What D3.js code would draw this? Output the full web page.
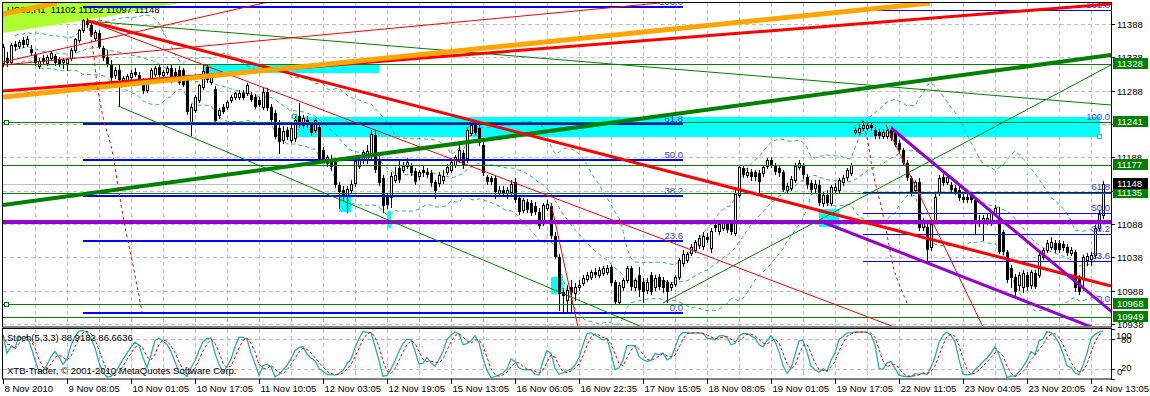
<!DOCTYPE html>
<html><head><meta charset="utf-8">
<script src="https://cdn.jsdelivr.net/npm/d3@7/dist/d3.min.js"></script>
<style>
html,body{margin:0;padding:0;background:#fff;}
svg{display:block;}
text{font-family:"Liberation Sans",Arial,sans-serif;font-size:9.5px;white-space:pre;}
</style></head><body>
<svg id="chart" width="1150" height="396"></svg>
<script>
// ---------- DATA (US30, H1) ----------
const opens = [
11330,11337,11331,11358,11355,11364,11358,11351,11342,11325,
11337,11330,11337,11340,11334,11331,11330,11337,11349,11364,
11379,11393,11387,11367,11375,11352,11339,11327,11312,11319,
11304,11304,11309,11316,11312,11304,11289,11307,11313,11324,
11312,11316,11322,11316,11319,11319,11304,11240,11259,11274,
11294,11324,11301,11290,11252,11264,11264,11274,11279,11279,
11285,11285,11282,11279,11274,11264,11286,11264,11254,11232,
11214,11229,11214,11217,11250,11237,11244,11237,11229,11234,
11199,11179,11184,11181,11146,11139,11131,11139,11150,11175,
11184,11184,11190,11222,11184,11157,11129,11129,11154,11172,
11169,11175,11175,11168,11160,11169,11166,11164,11151,11149,
11154,11166,11169,11176,11184,11195,11187,11225,11237,11232,
11207,11159,11157,11157,11134,11139,11134,11136,11151,11127,
11109,11121,11120,11115,11106,11090,11112,11115,11070,11039,
10986,10974,10994,10985,10994,11000,11006,11009,11016,11012,
11014,11016,11024,11001,10971,10994,11004,11022,10994,11012,
11001,10989,11012,10994,11009,11004,11001,10994,10998,11009,
11029,11034,11044,11049,11056,11055,11069,11052,11087,11078,
11082,11090,11090,11075,11131,11172,11161,11166,11166,11164,
11164,11175,11184,11176,11172,11166,11139,11142,11154,11174,
11175,11158,11149,11142,11146,11119,11131,11119,11139,11139,
11151,11159,11164,11226,11226,11232,11232,11237,11229,11226,
11220,11220,11229,11224,11209,11199,11179,11157,11139,11151,
11084,11084,11054,11094,11134,11159,11151,11146,11142,11139,
11128,11128,11131,11124,11090,11090,11091,11090,11105,11097,
11076,11046,11022,11009,10997,10994,11012,10997,11015,11012,
11039,11049,11054,11060,11060,11058,11054,11044,11046,11007,
11007,11034,11036,11042,11082,11102];
const highs = [
11358,11346,11360,11363,11364,11369,11370,11357,11346,11337,
11342,11342,11348,11343,11339,11337,11337,11352,11367,11381,
11396,11397,11391,11379,11379,11355,11349,11334,11324,11327,
11310,11313,11319,11322,11316,11307,11304,11322,11325,11328,
11319,11325,11327,11322,11325,11322,11309,11268,11282,11298,
11327,11328,11312,11295,11262,11268,11274,11282,11286,11289,
11289,11300,11286,11283,11279,11292,11292,11268,11259,11244,
11235,11234,11237,11250,11270,11252,11250,11241,11247,11238,
11203,11191,11191,11184,11151,11145,11145,11154,11187,11190,
11199,11207,11229,11229,11190,11161,11135,11166,11174,11184,
11181,11187,11180,11172,11169,11175,11172,11169,11154,11166,
11169,11178,11184,11191,11211,11199,11234,11241,11244,11238,
11214,11161,11160,11160,11145,11145,11144,11154,11157,11130,
11127,11126,11124,11121,11112,11120,11124,11120,11076,11043,
10992,10997,11004,10999,11004,11012,11016,11019,11022,11024,
11025,11027,11027,11004,11001,11007,11025,11025,11007,11024,
11007,11007,11016,11012,11013,11009,11004,11001,11012,11037,
11049,11046,11058,11064,11072,11076,11075,11082,11091,11093,
11094,11094,11094,11139,11176,11175,11172,11170,11169,11169,
11176,11187,11189,11179,11176,11169,11150,11160,11180,11184,
11180,11163,11154,11154,11154,11136,11139,11146,11150,11157,
11162,11172,11179,11234,11238,11243,11240,11241,11234,11230,
11230,11232,11235,11229,11214,11202,11184,11160,11154,11157,
11097,11088,11094,11133,11162,11163,11162,11151,11146,11143,
11133,11133,11136,11128,11102,11102,11105,11109,11117,11113,
11079,11049,11027,11013,11016,11019,11016,11019,11019,11045,
11052,11064,11069,11064,11064,11063,11058,11054,11049,11012,
11042,11045,11046,11087,11109,11152];
const lows = [
11325,11325,11328,11349,11352,11354,11355,11342,11327,11322,
11328,11327,11334,11327,11325,11322,11319,11334,11346,11361,
11376,11384,11370,11364,11352,11334,11325,11301,11307,11265,
11298,11301,11306,11310,11300,11284,11286,11304,11310,11310,
11309,11313,11301,11304,11298,11295,11253,11222,11256,11271,
11291,11301,11298,11241,11247,11254,11261,11271,11276,11276,
11276,11282,11273,11262,11265,11261,11259,11241,11217,11195,
11210,11216,11211,11213,11234,11232,11234,11221,11226,11181,
11181,11175,11169,11144,11112,11124,11106,11136,11145,11172,
11179,11179,11187,11166,11146,11106,11112,11114,11151,11151,
11166,11172,11161,11148,11156,11160,11159,11145,11127,11145,
11149,11163,11166,11174,11181,11172,11181,11222,11222,11207,
11161,11148,11148,11127,11130,11130,11127,11133,11121,11103,
11106,11106,11102,11103,11082,11087,11109,11067,11037,10959,
10955,10955,10955,10974,10989,10997,11003,11006,11009,11009,
11012,11013,10997,10970,10968,10989,11001,10989,10989,10980,
10971,10984,10983,10989,10991,10986,10971,10989,10995,11006,
11025,11031,11041,11046,11052,11051,11061,11046,11078,11073,
11079,11076,11073,11072,11128,11158,11158,11154,11154,11136,
11160,11172,11173,11163,11160,11137,11136,11139,11151,11171,
11157,11142,11134,11136,11116,11115,11116,11116,11136,11136,
11146,11154,11161,11223,11223,11229,11229,11229,11217,11217,
11217,11217,11214,11205,11196,11176,11154,11131,11134,11079,
11079,11034,11049,11091,11131,11146,11148,11136,11133,11124,
11121,11121,11121,11073,11085,11064,11088,11087,11102,11044,
11043,11001,10994,10980,10989,10986,10989,10992,10992,11009,
11036,11046,11051,11046,11046,11049,11041,11041,10987,10983,
10989,11027,11027,11037,11079,11097];
const closes = [
11354,11330,11357,11354,11361,11357,11366,11345,11330,11333,
11331,11339,11345,11330,11327,11334,11336,11349,11366,11379,
11394,11387,11372,11376,11354,11337,11327,11307,11319,11304,
11307,11310,11315,11312,11301,11287,11301,11319,11322,11312,
11316,11322,11304,11307,11300,11297,11256,11264,11279,11297,
11318,11304,11309,11242,11259,11256,11271,11279,11285,11285,
11277,11297,11274,11264,11266,11286,11262,11244,11218,11211,
11228,11219,11232,11244,11237,11247,11237,11224,11244,11184,
11184,11188,11173,11146,11136,11131,11141,11148,11182,11185,
11196,11198,11223,11169,11149,11115,11117,11160,11161,11154,
11175,11181,11164,11151,11166,11164,11161,11149,11138,11161,
11160,11174,11181,11189,11199,11176,11229,11237,11225,11209,
11164,11151,11151,11136,11139,11134,11139,11148,11124,11106,
11124,11109,11105,11106,11085,11117,11118,11070,11039,10983,
10980,10989,10985,10994,10997,11007,11012,11016,11012,11019,
11022,11022,11000,10971,10997,11004,11022,10994,11004,10989,
10986,11001,10986,11007,10994,10992,10986,10998,11009,11034,
11043,11043,11053,11061,11067,11070,11064,11078,11082,11088,
11090,11079,11076,11133,11173,11161,11166,11158,11158,11151,
11173,11184,11176,11166,11164,11139,11145,11156,11175,11180,
11161,11146,11139,11148,11119,11131,11119,11143,11143,11154,
11157,11169,11176,11229,11232,11237,11237,11232,11220,11220,
11226,11229,11217,11206,11199,11179,11157,11136,11151,11082,
11094,11049,11088,11129,11157,11149,11159,11139,11136,11127,
11124,11124,11124,11090,11094,11097,11097,11105,11112,11046,
11046,11004,11007,10986,11012,11015,10994,11016,10994,11042,
11049,11060,11061,11049,11049,11052,11044,11049,10992,10986,
11039,11040,11042,11082,11103,11148];

const timeLabels = ["8 Nov 2010","9 Nov 08:05","10 Nov 01:05","10 Nov 17:05","11 Nov 10:05","12 Nov 03:05",
 "12 Nov 19:05","15 Nov 13:05","16 Nov 06:05","16 Nov 22:35","17 Nov 15:05","18 Nov 08:05","19 Nov 01:05",
 "19 Nov 17:05","22 Nov 11:05","23 Nov 04:05","23 Nov 20:05","24 Nov 13:05"];
const priceTicks = [11388,11338,11288,11238,11188,11138,11088,11038,10988,10938];
const levelLines = [11328,11241,11177,11135,10968,10949];
const bidPrice = 11148;
const purpleLevel = 11091;
const stochLevels = [20,80];
const stochTickLabels = ["100","80","20","0"];
const headerText = "US30,H1  11102 11152 11097 11148";
const stochText = "Stoch(5,3,3) 88.9182 86.6636";
const copyText = "XTB-Trader, \u00a9 2001-2010 MetaQuotes Software Corp.";

// chart objects in (bar index, price)
const thickRedLines = [[21.25,11392.5,277,10995],[0,11287.5,277,11418]];
const orangeLines = [[0,11278.5,231.75,11419.5],[0,11403,13.5,11419.5]];
const thinRedLines = [[0,11331,68.5,11424],[0,11326.5,164.25,11419.5],[21.25,11392.5,223.5,10932],
  [137,11119.5,143.75,10933.5],[220.75,11236.5,245,10933.5]];
const thickGreenLines = [[0,11116.5,277,11341.5]];
const thinGreenLines = [[21.25,11392.5,277,11266.5],[28.75,11265,161,10930.5],[165,10969.5,277,11326.5]];
const purpleLines = [[222,11232,277.25,10956],[204.25,11092.5,277,10922]];
const arc1 = [[21.25,11391],[22.5,11349],[23.5,11299.5],[25,11248.5],[27.25,11199],[28.5,11154],[30.5,11083.5],[32.25,11034],[34.75,10956]];
const arc2 = [[214.75,11244],[216,11218.5],[217.5,11164.5],[219.75,11109],[221.25,11064],[223,11014.5],[226.25,10966.5]];
const cyanRects = [[50,11326.5,94,11314.5],[73,11248.5,274.25,11218.5],[84,11134.5,87,11106],
  [96,11107.5,97,11082],[137,11008.5,140,10983],[204,11110.5,209,11083.5]];
const limePoly = [[0,11419.5],[44.25,11419.5],[26.75,11400],[0,11374.5]];
const fibLevels = [0,23.6,38.2,50,61.8,100,161.8];
const fib1 = {b1:20, b2:170, p0:10954, p100:11413};
const fib2 = {b1:215, b2:277, p0:10968, p100:11241};

// ---------- SCALES ----------
const L=3, R=1111, T=3, B=326, ST=329, SB=379;
const x = d3.scaleLinear().domain([0,277]).range([3,1111]);
const y = d3.scaleLinear().domain([10938,11388]).range([324,24]);
const ys = d3.scaleLinear().domain([0,100]).range([379,329]);

const svg = d3.select("#chart");
svg.append("rect").attr("width",1150).attr("height",396).attr("fill","#fff");
const defs = svg.append("defs");
defs.append("clipPath").attr("id","cm").append("rect").attr("x",L).attr("y",T).attr("width",R-L).attr("height",B-T);
defs.append("clipPath").attr("id","cs").append("rect").attr("x",L).attr("y",ST).attr("width",R-L).attr("height",SB-ST);

const gm = svg.append("g").attr("clip-path","url(#cm)");
const gs = svg.append("g").attr("clip-path","url(#cs)");
const grid = "#c0c0c0";

// grid
priceTicks.forEach(p=>{
  const yy = Math.round(y(p))+0.5;
  gm.append("line").attr("x1",L).attr("x2",R).attr("y1",yy).attr("y2",yy).attr("stroke",grid).attr("stroke-dasharray","4,3");
});
for(let i=8;i<=276;i+=8){
  const xx = x(i)+0.5;
  gm.append("line").attr("x1",xx).attr("x2",xx).attr("y1",T).attr("y2",B).attr("stroke",grid).attr("stroke-dasharray","4,3");
  gs.append("line").attr("x1",xx).attr("x2",xx).attr("y1",ST).attr("y2",SB).attr("stroke",grid).attr("stroke-dasharray","4,3");
}
stochLevels.forEach(v=>{
  const yy = Math.round(ys(v))+0.5;
  gs.append("line").attr("x1",L).attr("x2",R).attr("y1",yy).attr("y2",yy).attr("stroke",grid).attr("stroke-dasharray","4,3");
});

// background objects
cyanRects.forEach(r=>{
  gm.append("rect").attr("x",x(r[0])).attr("y",y(r[1])).attr("width",x(r[2])-x(r[0])).attr("height",y(r[3])-y(r[1])).attr("fill","#00ffff");
});
gm.append("path").attr("d",d3.line().x(d=>x(d[0])).y(d=>y(d[1]))(limePoly)+"Z").attr("fill","#adff2f");

// bid line
gm.append("line").attr("x1",L).attr("x2",R).attr("y1",Math.round(y(bidPrice))+0.5).attr("y2",Math.round(y(bidPrice))+0.5).attr("stroke","#c0c0c0");

// Bollinger bands (20,2) from closes
const bbU=[],bbM=[],bbD=[];
closes.forEach((c,i)=>{
  const w = closes.slice(Math.max(0,i-19),i+1);
  const m = d3.mean(w); const sd = Math.sqrt(d3.mean(w.map(v=>(v-m)*(v-m))));
  bbM.push([i,m]); bbU.push([i,m+2*sd]); bbD.push([i,m-2*sd]);
});
const ln = d3.line().x(d=>x(d[0])).y(d=>y(d[1]));
[bbU,bbM,bbD].forEach(s=>{
  gm.append("path").attr("d",ln(s.slice(3))).attr("fill","none").attr("stroke","#3cb371").attr("stroke-dasharray","4,3");
});

// header text
gm.append("text").attr("x",7).attr("y",13).attr("fill","#000").text(headerText);

// candles
const gc = gm.append("g");
opens.forEach((o,i)=>{
  const c = closes[i], cx = Math.round(x(i));
  gc.append("line").attr("x1",cx+0.5).attr("x2",cx+0.5).attr("y1",Math.round(y(highs[i]))).attr("y2",Math.round(y(lows[i]))+1).attr("stroke","#000");
  const top = Math.round(y(Math.max(o,c))), bot = Math.round(y(Math.min(o,c)));
  if(c>=o){
    gc.append("rect").attr("x",cx-0.5).attr("y",top+0.5).attr("width",2).attr("height",Math.max(bot-top,1)).attr("fill","#fff").attr("stroke","#000");
  } else {
    gc.append("rect").attr("x",cx-1).attr("y",top).attr("width",3).attr("height",Math.max(bot-top,1)).attr("fill","#000");
  }
});

// fibonacci
function drawFib(f, w, labelX){
  fibLevels.forEach(l=>{
    const p = f.p0 + (f.p100-f.p0)*l/100;
    const yy = Math.round(y(p));
    gm.append("line").attr("x1",x(f.b1)).attr("x2",x(f.b2)).attr("y1",yy+(w===1?0.5:0)).attr("y2",yy+(w===1?0.5:0)).attr("stroke","#0000ff").attr("stroke-width",w);
    gm.append("text").attr("x",labelX).attr("y",yy-2).attr("text-anchor","end").attr("fill","#3a3aff").text(l.toFixed(1));
  });
}
drawFib(fib1,2,x(fib1.b2));
drawFib(fib2,1,1110);

// horizontal levels
levelLines.forEach(p=>{
  const yy = Math.round(y(p))+0.5;
  gm.append("line").attr("x1",L).attr("x2",R).attr("y1",yy).attr("y2",yy).attr("stroke","#008000");
});
[11241,10968].forEach(p=>{
  gm.append("rect").attr("x",4.5).attr("y",Math.round(y(p))-1.5).attr("width",4).attr("height",4).attr("fill","#fff").attr("stroke","#008000");
});
const py = Math.round(y(purpleLevel));
gm.append("line").attr("x1",L).attr("x2",R).attr("y1",py).attr("y2",py).attr("stroke","#9400d3").attr("stroke-width",4);

// trend lines
function seg(g, arr, color, w){
  arr.forEach(s=>{
    g.append("line").attr("x1",x(s[0])).attr("y1",y(s[1])).attr("x2",x(s[2])).attr("y2",y(s[3])).attr("stroke",color).attr("stroke-width",w);
  });
}
seg(gm, thinGreenLines, "#008000", 1);
seg(gm, thinRedLines, "#ff0000", 1);
seg(gm, thickGreenLines, "#008000", 4);
seg(gm, thickRedLines, "#ff0000", 3);
seg(gm, orangeLines, "#ffa500", 5);
seg(gm, purpleLines, "#9400d3", 3);
const arcLine = d3.line().x(d=>x(d[0])).y(d=>y(d[1])).curve(d3.curveCatmullRom);
[arc1,arc2].forEach(a=>{
  gm.append("path").attr("d",arcLine(a)).attr("fill","none").attr("stroke","#ff0000").attr("stroke-dasharray","3,3");
});
// small object anchors
gm.append("rect").attr("x",x(73)-2.5).attr("y",y(11248.5)-2.5).attr("width",4).attr("height",4).attr("fill","none").attr("stroke","#00cccc");
gm.append("rect").attr("x",x(274.25)-2.5).attr("y",y(11218.5)-2.5).attr("width",4).attr("height",4).attr("fill","#fff").attr("stroke","#00cccc");

// stochastic (5,3,3)
const num=[],den=[];
closes.forEach((c,i)=>{
  const a=Math.max(0,i-4);
  const hh=d3.max(highs.slice(a,i+1)), ll=d3.min(lows.slice(a,i+1));
  num.push(c-ll); den.push(hh-ll);
});
const K = num.map((n,i)=>{const a=Math.max(0,i-2);const s=d3.sum(den.slice(a,i+1));return s?100*d3.sum(num.slice(a,i+1))/s:50;});
const D = K.map((k,i)=>d3.mean(K.slice(Math.max(0,i-2),i+1)));
const sl = d3.line().x((d,i)=>x(i)).y(d=>ys(d));
gs.append("path").attr("d",sl(K)).attr("fill","none").attr("stroke","#20b2aa").attr("stroke-width",1.3);
gs.append("path").attr("d",sl(D)).attr("fill","none").attr("stroke","#ff0000").attr("stroke-dasharray","3,2");
gs.append("text").attr("x",7).attr("y",341).attr("fill","#000").text(stochText);
gs.append("text").attr("x",7).attr("y",374).attr("fill","#000").text(copyText);

// borders
svg.append("rect").attr("x",2.5).attr("y",2.5).attr("width",R-2).attr("height",B-2+0.5).attr("fill","none").attr("stroke","#000");
svg.append("rect").attr("x",2.5).attr("y",ST-0.5).attr("width",R-2).attr("height",SB-ST+0.5).attr("fill","none").attr("stroke","#000");

// right price axis (labels fully hidden under level boxes are skipped, as in the reference)
const boxPrices = levelLines.concat([bidPrice]);
priceTicks.forEach(p=>{
  const yy = Math.round(y(p))+0.5;
  svg.append("line").attr("x1",R).attr("x2",R+4).attr("y1",yy).attr("y2",yy).attr("stroke","#000");
  const hidden = boxPrices.some(b=>Math.abs(y(b)-y(p))<3);
  if(!hidden) svg.append("text").attr("x",1117).attr("y",yy+3.5).attr("fill","#000").text(p);
});
levelLines.forEach(p=>{
  const yy = Math.round(y(p));
  svg.append("rect").attr("x",1113).attr("y",yy-6).attr("width",35).attr("height",11).attr("fill","#008000");
  svg.append("text").attr("x",1117).attr("y",yy+3).attr("fill","#fff").text(p);
});
{
  const yy = Math.round(y(bidPrice));
  svg.append("rect").attr("x",1113).attr("y",yy-6).attr("width",35).attr("height",11).attr("fill","#000");
  svg.append("text").attr("x",1117).attr("y",yy+3).attr("fill","#fff").text(bidPrice);
}
// stoch axis labels
const stPos = [[1116,339],[1121,343],[1121,371],[1117,375]];
stochTickLabels.forEach((t,i)=>{
  svg.append("text").attr("x",stPos[i][0]).attr("y",stPos[i][1]).attr("fill","#000").text(t);
});
[100,80,20,0].forEach(v=>{
  const yy=Math.round(ys(v))+0.5;
  svg.append("line").attr("x1",R).attr("x2",R+4).attr("y1",yy).attr("y2",yy).attr("stroke","#000");
});

// time axis
timeLabels.forEach((t,k)=>{
  const xx = x(k*16)+0.5;
  svg.append("line").attr("x1",xx).attr("x2",xx).attr("y1",SB).attr("y2",SB+5).attr("stroke","#000");
  svg.append("text").attr("x",xx+1).attr("y",392).attr("fill","#000").text(t);
});
</script></body></html>
